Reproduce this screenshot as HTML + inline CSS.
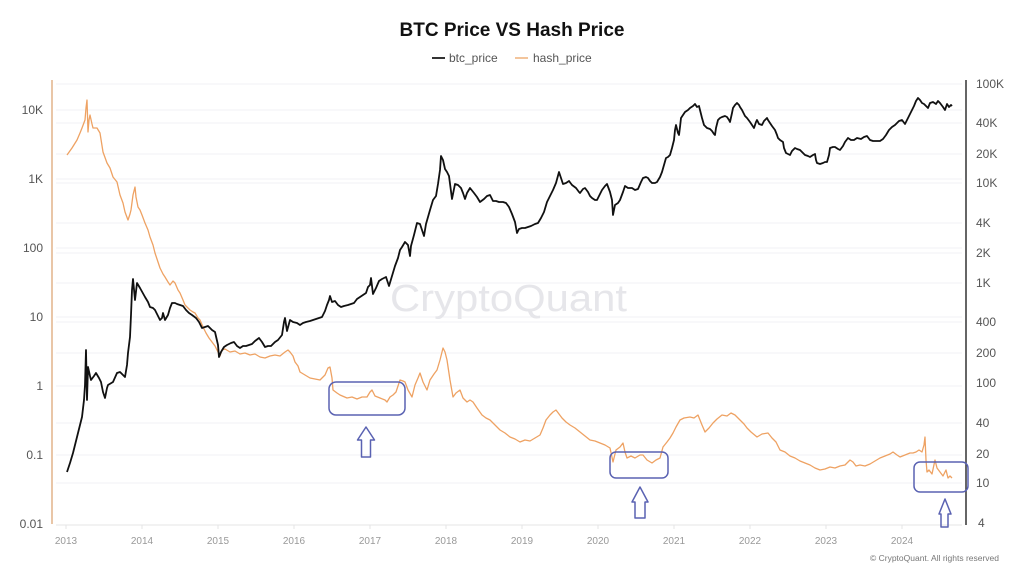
<!DOCTYPE html>
<html>
<head>
<meta charset="utf-8">
<style>
html,body{margin:0;padding:0;background:#fff;}
svg{display:block;}
text{font-family:"Liberation Sans",sans-serif;}
</style>
</head>
<body>
<svg width="1024" height="576" viewBox="0 0 1024 576" xmlns="http://www.w3.org/2000/svg">
<rect width="1024" height="576" fill="#fff"/>
<!-- title & legend -->
<text x="512" y="36" text-anchor="middle" font-size="19" font-weight="bold" fill="#111">BTC Price VS Hash Price</text>
<line x1="432" y1="58" x2="445" y2="58" stroke="#333" stroke-width="2"/>
<text x="449" y="62" font-size="12" fill="#555">btc_price</text>
<line x1="515" y1="58" x2="528" y2="58" stroke="#f3c59c" stroke-width="2"/>
<text x="533" y="62" font-size="12" fill="#555">hash_price</text>

<!-- gridlines -->
<g stroke="#f2f2f4" stroke-width="1">
<line x1="56" y1="110" x2="962" y2="110"/><line x1="56" y1="179" x2="962" y2="179"/><line x1="56" y1="248" x2="962" y2="248"/><line x1="56" y1="317" x2="962" y2="317"/><line x1="56" y1="386" x2="962" y2="386"/><line x1="56" y1="455" x2="962" y2="455"/>
<line x1="56" y1="84" x2="962" y2="84"/><line x1="56" y1="123" x2="962" y2="123"/><line x1="56" y1="154" x2="962" y2="154"/><line x1="56" y1="183" x2="962" y2="183"/><line x1="56" y1="223" x2="962" y2="223"/><line x1="56" y1="253" x2="962" y2="253"/><line x1="56" y1="283" x2="962" y2="283"/><line x1="56" y1="322" x2="962" y2="322"/><line x1="56" y1="353" x2="962" y2="353"/><line x1="56" y1="423" x2="962" y2="423"/><line x1="56" y1="483" x2="962" y2="483"/>
</g>
<line x1="56" y1="525" x2="962" y2="525" stroke="#e4e4e6" stroke-width="1"/>
<g stroke="#e4e4e6" stroke-width="1">
<line x1="66" y1="525" x2="66" y2="529"/><line x1="142" y1="525" x2="142" y2="529"/><line x1="218" y1="525" x2="218" y2="529"/><line x1="294" y1="525" x2="294" y2="529"/><line x1="370" y1="525" x2="370" y2="529"/><line x1="446" y1="525" x2="446" y2="529"/><line x1="522" y1="525" x2="522" y2="529"/><line x1="598" y1="525" x2="598" y2="529"/><line x1="674" y1="525" x2="674" y2="529"/><line x1="750" y1="525" x2="750" y2="529"/><line x1="826" y1="525" x2="826" y2="529"/><line x1="902" y1="525" x2="902" y2="529"/>
</g>

<!-- watermark -->
<text x="390" y="311" font-size="38" fill="#e6e6ea" textLength="237" lengthAdjust="spacingAndGlyphs">CryptoQuant</text>

<!-- axes -->
<line x1="52" y1="80" x2="52" y2="524" stroke="#e2b48a" stroke-width="1.5"/>
<line x1="966" y1="80" x2="966" y2="525" stroke="#333" stroke-width="1.5"/>

<!-- left labels -->
<g font-size="12" fill="#555" text-anchor="end">
<text x="43" y="114">10K</text><text x="43" y="183">1K</text><text x="43" y="252">100</text><text x="43" y="321">10</text><text x="43" y="390">1</text><text x="43" y="459">0.1</text><text x="43" y="528">0.01</text>
</g>
<!-- right labels -->
<g font-size="12" fill="#555">
<text x="976" y="88">100K</text><text x="976" y="127">40K</text><text x="976" y="158">20K</text><text x="976" y="187">10K</text><text x="976" y="227">4K</text><text x="976" y="257">2K</text><text x="976" y="287">1K</text><text x="976" y="326">400</text><text x="976" y="357">200</text><text x="976" y="387">100</text><text x="976" y="427">40</text><text x="976" y="458">20</text><text x="976" y="487">10</text><text x="978" y="527">4</text>
</g>
<!-- bottom labels -->
<g font-size="10" fill="#999" text-anchor="middle">
<text x="66" y="544">2013</text><text x="142" y="544">2014</text><text x="218" y="544">2015</text><text x="294" y="544">2016</text><text x="370" y="544">2017</text><text x="446" y="544">2018</text><text x="522" y="544">2019</text><text x="598" y="544">2020</text><text x="674" y="544">2021</text><text x="750" y="544">2022</text><text x="826" y="544">2023</text><text x="902" y="544">2024</text>
</g>
<text x="999" y="561" font-size="8" fill="#777" text-anchor="end" textLength="129" lengthAdjust="spacingAndGlyphs">© CryptoQuant. All rights reserved</text>

<!-- hash price -->
<polyline fill="none" stroke="#eea263" stroke-width="1.3" stroke-linejoin="round" points="67,155 72,148 77,140 80,133 82,128 85,120 86,108 87,100 88,132 89,120 90,115 92,124 93,128 97,128 100,133 103,152 107,163 110,168 113,177 117,182 120,195 123,203 125,212 128,220 130,214 131,210 133,195 135,187 136,197 138,207 140,210 142,215 145,223 148,230 150,237 153,245 155,253 158,262 160,268 163,274 165,277 168,282 170,285 173,281 175,283 178,290 180,293 183,300 185,305 188,308 190,310 193,312 195,313 198,318 200,320 203,327 206,333 209,338 212,342 215,346 218,352 220,356 222,350 225,349 230,352 235,351 240,354 245,353 250,355 255,354 260,357 265,358 270,356 275,355 280,356 285,352 288,350 290,352 293,356 295,362 298,366 300,372 305,375 310,378 315,379 320,380 325,375 328,368 330,367 332,378 333,390 337,393 340,395 347,398 352,397 357,399 362,397 367,397 370,392 372,390 375,396 380,398 385,400 387,402 390,397 393,395 396,392 400,380 403,381 405,382 408,390 412,397 415,385 418,378 420,373 423,382 427,390 430,380 434,374 437,370 440,360 443,348 445,352 447,360 450,380 453,397 456,393 460,390 463,398 467,402 470,400 473,402 477,408 482,415 486,418 490,420 495,425 500,430 505,433 510,437 515,439 520,442 525,440 530,441 535,438 540,435 543,428 546,420 550,415 553,412 556,410 559,414 562,418 566,422 570,425 575,428 580,432 585,436 590,440 595,441 600,443 605,445 610,448 613,462 616,450 620,447 623,443 625,452 627,458 631,456 635,458 640,455 643,455 647,460 652,463 656,460 660,458 663,447 667,442 670,438 673,433 676,427 680,420 684,418 690,417 694,418 698,415 702,425 705,432 709,428 713,423 717,419 722,415 727,416 731,413 735,415 740,420 744,424 747,428 751,432 757,437 762,434 768,433 772,438 776,442 780,450 785,452 790,456 795,458 800,461 805,463 810,465 815,468 820,470 825,469 830,467 835,468 840,466 845,465 850,460 853,462 856,466 860,465 865,466 870,464 875,461 880,458 885,456 890,454 893,452 897,455 900,457 905,455 910,453 913,453 916,452 919,450 922,452 924,445 925,437 926,460 927,472 929,470 932,474 935,460 937,468 940,472 943,476 946,470 948,478 950,476 952,478"/>

<!-- btc price -->
<polyline fill="none" stroke="#111" stroke-width="1.8" stroke-linejoin="round" points="67,472 70,463 73,453 76,441 78,433 82,417 84,400 85,385 86,350 87,400 88,367 90,376 91,380 94,376 96,373 99,378 101,382 103,392 105,398 107,388 108,385 113,382 117,373 120,372 123,375 125,377 127,365 128,353 130,337 131,315 132,290 133,279 135,300 137,283 140,288 145,297 148,302 150,307 153,308 155,310 158,316 160,320 162,318 163,313 165,320 168,315 170,308 172,303 175,303 177,304 180,305 183,306 186,310 189,313 192,315 196,318 199,322 202,328 205,327 208,326 212,330 215,332 218,345 219,357 221,352 224,347 227,345 231,343 234,342 237,346 240,348 243,346 246,346 249,345 252,344 255,341 259,338 262,342 265,347 268,346 271,346 275,342 278,340 282,335 284,322 285,318 287,331 290,320 293,322 297,323 300,325 303,323 306,322 310,321 313,320 316,319 319,318 322,317 325,311 327,305 329,300 330,296 332,302 335,301 338,305 341,307 344,306 348,305 351,304 354,303 357,299 360,297 363,295 366,293 368,287 370,285 371,278 373,294 376,288 379,281 382,279 386,277 389,286 392,276 395,266 398,258 400,250 402,247 405,242 408,245 410,256 411,246 414,235 417,223 420,224 424,236 426,224 430,210 433,200 436,196 438,184 440,170 441,156 443,160 445,169 447,172 449,176 452,199 455,184 458,185 461,188 463,193 465,199 467,193 470,188 474,193 477,197 480,202 484,199 487,196 490,195 493,201 496,201 499,202 503,202 506,203 509,207 512,214 515,222 517,233 519,229 522,228 525,228 528,227 531,226 535,224 538,223 541,218 544,212 547,202 550,196 553,190 556,183 559,172 561,178 563,184 566,183 569,181 572,185 576,188 579,192 580,193 583,189 585,188 588,192 590,196 592,198 595,200 597,200 600,194 602,190 605,186 607,184 610,192 612,200 613,215 615,205 618,203 620,200 623,192 625,186 628,188 632,188 635,190 638,189 641,182 643,178 646,177 648,178 650,181 652,183 655,183 657,182 660,177 662,172 664,165 666,158 668,157 670,155 672,148 674,140 675,130 676,125 678,133 679,135 680,127 681,118 683,115 685,112 688,110 690,108 693,106 695,104 697,107 699,106 700,110 702,118 704,125 706,127 707,128 710,129 712,131 714,134 715,135 716,128 718,120 720,118 722,117 725,116 727,117 729,120 730,122 732,113 733,108 735,105 737,103 739,105 740,107 742,110 745,116 747,118 750,122 752,125 754,128 756,122 757,120 759,124 762,125 764,121 767,118 768,120 770,123 772,126 775,130 777,135 778,138 780,140 783,142 784,148 786,153 788,154 790,155 792,151 795,148 797,149 800,150 802,152 805,155 808,156 810,157 813,155 815,154 816,160 817,163 820,164 823,163 825,162 827,162 829,155 830,148 833,147 835,147 838,149 840,150 843,146 845,142 848,138 851,140 854,140 857,138 861,139 864,137 867,136 870,140 873,141 876,141 880,141 883,139 886,135 889,130 892,127 895,125 899,121 902,120 905,124 908,118 911,112 914,106 916,101 918,98 920,100 922,103 924,104 926,106 928,108 930,103 933,102 936,104 938,101 940,103 943,107 945,110 947,104 949,107 951,105 952,106"/>

<!-- annotations -->
<g fill="none" stroke="#5a62b2" stroke-width="1.5" stroke-linejoin="round">
<rect x="329" y="382" width="76" height="33" rx="7"/>
<rect x="610" y="452" width="58" height="26" rx="6"/>
<rect x="914" y="462" width="54" height="30" rx="6"/>
<polygon points="366,427 374.5,440 370.5,440 370.5,457 361.5,457 361.5,440 357.5,440"/>
<polygon points="640,487 648,502 645,502 645,518 635,518 635,502 632,502"/>
<polygon points="945,499 951,514 948,514 948,527 941,527 941,514 939,514"/>
</g>
</svg>
</body>
</html>
